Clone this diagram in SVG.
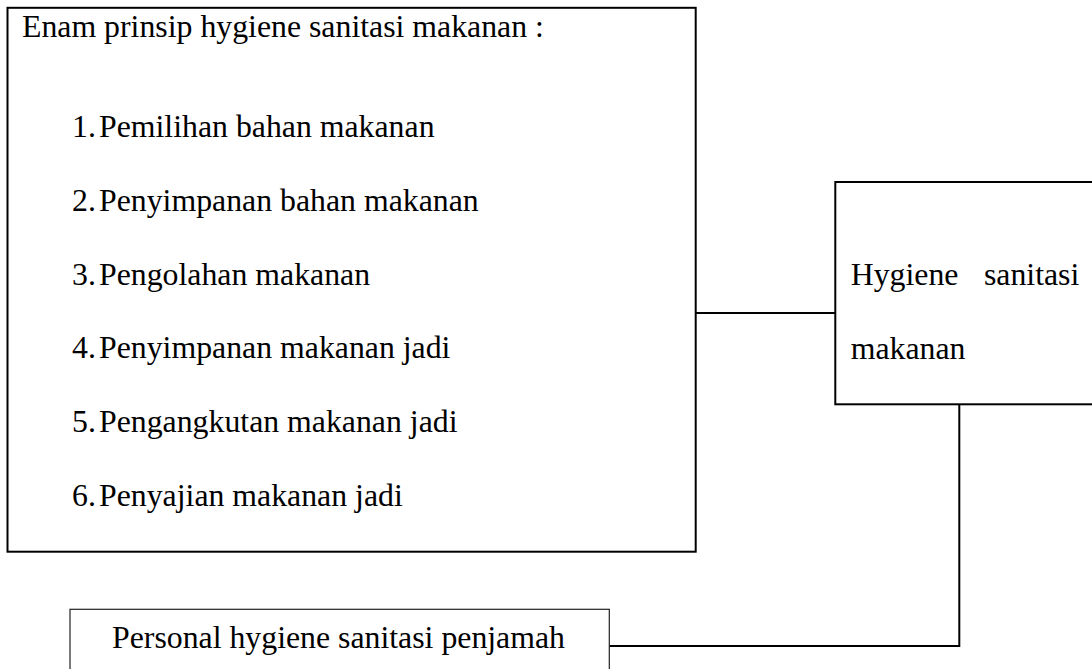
<svg xmlns="http://www.w3.org/2000/svg" width="1092" height="669" viewBox="0 0 1092 669">
<style>
text { font-family: "Liberation Serif", "Times New Roman", serif; font-size: 31.8px; fill: #000; }
.box { fill: #fff; stroke: #000; stroke-width: 2; }
.thin { fill: #fff; stroke: #222; stroke-width: 1.2; }
.conn { stroke: #000; stroke-width: 2; fill: none; }
</style>
<rect width="1092" height="669" fill="#fff"/>
<g id="connectors">
<line class="conn" x1="693" y1="313" x2="835.3" y2="313"/>
<polyline class="conn" points="959.3,404.3 959.3,646 609.3,646"/>
</g>
<g id="node-prinsip">
<rect class="box" x="7.5" y="7.8" width="688.2" height="543.9"/>
<text x="22" y="37">Enam prinsip hygiene sanitasi makanan :</text>
<text x="72" y="137">1.</text><text x="99" y="137">Pemilihan bahan makanan</text>
<text x="72" y="210.8">2.</text><text x="99" y="210.8">Penyimpanan bahan makanan</text>
<text x="72" y="284.6">3.</text><text x="99" y="284.6">Pengolahan makanan</text>
<text x="72" y="358.4">4.</text><text x="99" y="358.4">Penyimpanan makanan jadi</text>
<text x="72" y="432.2">5.</text><text x="99" y="432.2">Pengangkutan makanan jadi</text>
<text x="72" y="506">6.</text><text x="99" y="506">Penyajian makanan jadi</text>
</g>
<g id="node-hygiene">
<rect class="box" x="835.3" y="182" width="270" height="222.3"/>
<text x="850.7" y="285">Hygiene</text>
<text x="1079.3" y="285" text-anchor="end">sanitasi</text>
<text x="850.7" y="359">makanan</text>
</g>
<g id="node-personal">
<rect class="thin" x="70" y="609.3" width="539.3" height="80"/>
<text x="112" y="648">Personal hygiene sanitasi penjamah</text>
</g>
</svg>
